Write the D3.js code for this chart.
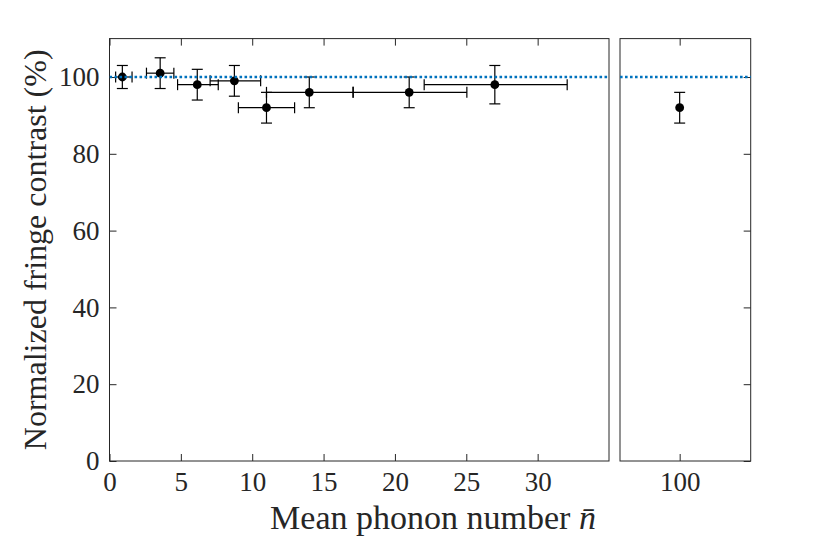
<!DOCTYPE html>
<html>
<head>
<meta charset="utf-8">
<script src="https://cdn.jsdelivr.net/npm/d3@7/dist/d3.min.js"></script>
<style>
  html, body { margin: 0; padding: 0; background: #fff; }
  svg { display: block; }
  text { font-family: "Liberation Serif", "DejaVu Serif", serif; fill: #262626; }
</style>
</head>
<body>
<svg id="chart" width="830" height="543"></svg>
<script>
// ---- data ----
const nbar     = [0.9, 3.55, 6.15, 8.75, 11, 14, 21, 27];
const contrast = [100, 101, 98, 99, 92, 96, 96, 98];
const yErr     = [3, 4, 4, 4, 4, 4, 4, 5];
const xErrLo   = [0.47, 0.96, 1.38, 1.7, 1.97, 3.0, 3.92, 4.95];
const xErrHi   = [0.68, 0.96, 1.47, 1.84, 1.97, 3.06, 4.04, 5.07];

const nbarHigh     = [100];
const contrastHigh = [92];
const yErrHigh     = [4];

const refLevel = 100;
const xTicksLeft  = [0, 5, 10, 15, 20, 25, 30];
const xTicksRight = [100];
const yTicks      = [0, 20, 40, 60, 80, 100];

// ---- layout ----
const svg = d3.select("#chart");
const plotTop = 38.6, plotBottom = 461;
const leftL = 109.5, rightL = 609;
const leftR = 620, rightR = 750.7;
const tickLen = 7;
const axisColor = "#262626";
const serif = '"Liberation Serif", serif';

const y  = d3.scaleLinear().domain([0, 110]).range([plotBottom, plotTop]);
const xL = d3.scaleLinear().domain([0, 35]).range([leftL, rightL]);
const xR = d3.scaleLinear().domain([95.8, 105]).range([leftR, rightR]);

function styleAxis(g, showText) {
  g.attr("font-family", serif).attr("font-size", 27);
  g.select(".domain").remove();
  g.selectAll(".tick line").attr("stroke", axisColor).attr("stroke-width", 1);
  g.selectAll(".tick text")
    .attr("font-family", serif)
    .style("font-family", serif)
    .style("font-size", "27px")
    .attr("fill", axisColor);
  if (!showText) g.selectAll(".tick text").remove();
}

function panel(x, xTicks, yAxisSide, clipId) {
  const [x0, x1] = x.range();
  const g = svg.append("g");

  svg.append("defs").append("clipPath").attr("id", clipId)
    .append("rect").attr("x", x0).attr("y", plotTop).attr("width", x1 - x0 + 1).attr("height", plotBottom - plotTop);

  g.append("g").attr("transform", `translate(0,${plotBottom})`)
    .call(d3.axisBottom(x).tickValues(xTicks).tickSize(-tickLen).tickPadding(11).tickFormat(d3.format("d")))
    .call(a => styleAxis(a, true));
  g.append("g").attr("transform", `translate(0,${plotTop})`)
    .call(d3.axisTop(x).tickValues(xTicks).tickSize(-tickLen).tickFormat(""))
    .call(a => styleAxis(a, false));

  if (yAxisSide === "left") {
    g.append("g").attr("transform", `translate(${x0},0)`)
      .call(d3.axisLeft(y).tickValues(yTicks).tickSize(-tickLen).tickPadding(10).tickFormat(d3.format("d")))
      .call(a => styleAxis(a, true));
  } else {
    g.append("g").attr("transform", `translate(${x1},0)`)
      .call(d3.axisRight(y).tickValues(yTicks).tickSize(-tickLen).tickFormat(""))
      .call(a => styleAxis(a, false));
  }

  g.append("rect")
    .attr("x", x0).attr("y", plotTop).attr("width", x1 - x0).attr("height", plotBottom - plotTop)
    .attr("fill", "none").attr("stroke", axisColor).attr("stroke-width", 1);

  return g;
}

function refLine(g, x, clipId) {
  const [x0, x1] = x.range();
  g.append("line")
    .attr("clip-path", `url(#${clipId})`)
    .attr("x1", x0).attr("x2", x1)
    .attr("y1", y(refLevel)).attr("y2", y(refLevel))
    .attr("stroke", "#0072BD").attr("stroke-width", 2.6)
    .attr("stroke-dasharray", "2.6 2.4");
}

const gL = panel(xL, xTicksLeft, "left", "clipL");
const gR = panel(xR, xTicksRight, "right", "clipR");

const capHalf = 5.5;
const ebColor = "#000";

function drawPoints(g, x, xs, ys, yE, xLo, xHi) {
  const pts = xs.map((d, i) => ({
    x: d, y: ys[i], ye: yE[i],
    xl: xLo ? xLo[i] : 0, xh: xHi ? xHi[i] : 0
  }));
  const eb = g.append("g").attr("stroke", ebColor).attr("stroke-width", 1.2).attr("fill", "none");
  pts.forEach(p => {
    eb.append("line").attr("x1", x(p.x)).attr("x2", x(p.x)).attr("y1", y(p.y - p.ye)).attr("y2", y(p.y + p.ye));
    eb.append("line").attr("x1", x(p.x) - capHalf).attr("x2", x(p.x) + capHalf).attr("y1", y(p.y + p.ye)).attr("y2", y(p.y + p.ye));
    eb.append("line").attr("x1", x(p.x) - capHalf).attr("x2", x(p.x) + capHalf).attr("y1", y(p.y - p.ye)).attr("y2", y(p.y - p.ye));
    if (p.xl || p.xh) {
      eb.append("line").attr("x1", x(p.x - p.xl)).attr("x2", x(p.x + p.xh)).attr("y1", y(p.y)).attr("y2", y(p.y));
      eb.append("line").attr("x1", x(p.x - p.xl)).attr("x2", x(p.x - p.xl)).attr("y1", y(p.y) - capHalf).attr("y2", y(p.y) + capHalf);
      eb.append("line").attr("x1", x(p.x + p.xh)).attr("x2", x(p.x + p.xh)).attr("y1", y(p.y) - capHalf).attr("y2", y(p.y) + capHalf);
    }
  });
  g.append("g").selectAll("circle").data(pts).join("circle")
    .attr("cx", d => x(d.x)).attr("cy", d => y(d.y)).attr("r", 4.4).attr("fill", "#000");
}

drawPoints(gL, xL, nbar, contrast, yErr, xErrLo, xErrHi);
drawPoints(gR, xR, nbarHigh, contrastHigh, yErrHigh, null, null);
refLine(gL, xL, "clipL");
refLine(gR, xR, "clipR");

const xlab = svg.append("text")
  .attr("x", 433).attr("y", 529)
  .attr("text-anchor", "middle")
  .style("font-size", "34px");
xlab.append("tspan").text("Mean phonon number ");
xlab.append("tspan").style("font-style", "italic").text("n\u0304");

svg.append("text")
  .attr("transform", `translate(46,${(plotTop + plotBottom) / 2}) rotate(-90)`)
  .attr("text-anchor", "middle")
  .style("font-size", "32px")
  .text("Normalized fringe contrast (%)");
</script>
</body>
</html>
